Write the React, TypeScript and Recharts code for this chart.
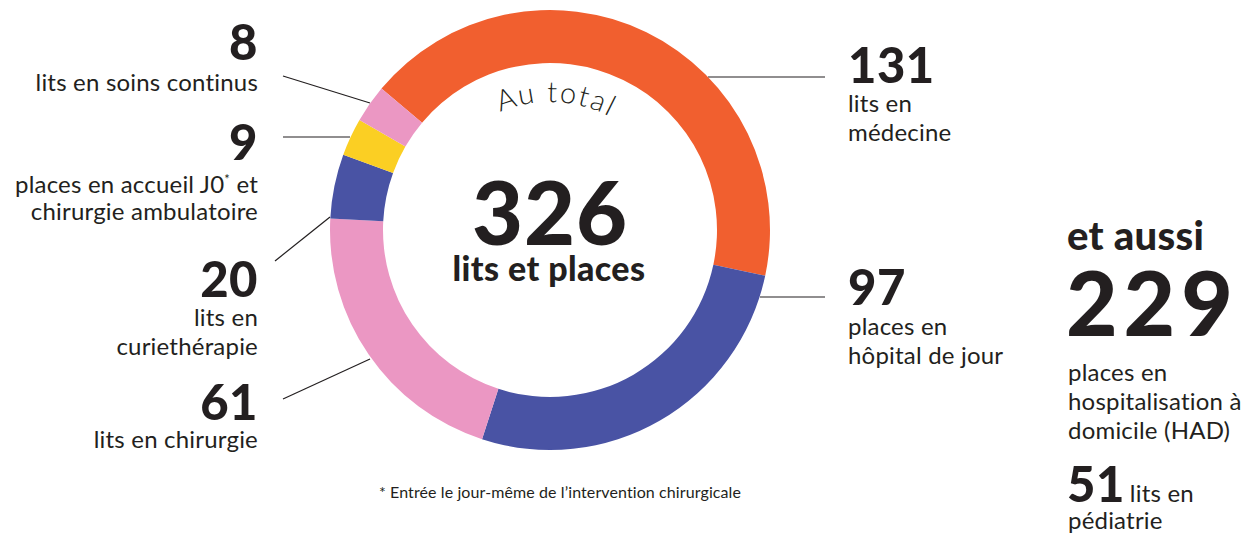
import React from 'react';
import { PieChart, Pie, Cell, Customized } from 'recharts';

// Categories (clockwise from the top-left boundary)
const categories = [
  'lits en médecine',
  'places en hôpital de jour',
  'lits en chirurgie',
  'lits en curiethérapie',
  'places en accueil J0 et chirurgie ambulatoire',
  'lits en soins continus',
];
// Labelled values
const values = [131, 97, 61, 20, 9, 8];
// Arc sizes as drawn in the infographic (degrees)
const arcShares = [152, 96, 75, 17, 10, 10];
const colors = ['#F15F2F', '#4953A4', '#EB97C3', '#4953A4', '#FBCF23', '#EB97C3'];

const total = 326;
const extraHAD = 229;
const extraPediatrie = 51;

const pieData = categories.map((c, i) => ({ name: c, value: arcShares[i], label: values[i] }));

const W = 1245;
const H = 535;
const CX = 550;
const CY = 230;

const INK = '#231F20';
const NUM_FONT = 'Lato, "DejaVu Sans", sans-serif';
const TXT_FONT = 'Lato, "Noto Sans", sans-serif';

const numStyle = { fontFamily: NUM_FONT, fontWeight: 900, fontSize: 49, fill: INK, letterSpacing: 0.5 } as const;
const txtStyle = { fontFamily: TXT_FONT, fontWeight: 400, fontSize: 24, fill: INK, letterSpacing: 0.2 } as const;

function Annotations() {
  const arcR = 128;
  return (
    <g>
      <defs>
        <path
          id="autotal-arc"
          d={`M ${CX - arcR} ${CY} A ${arcR} ${arcR} 0 0 1 ${CX + arcR} ${CY}`}
          fill="none"
        />
      </defs>
      <text style={{ fontFamily: TXT_FONT, fontWeight: 300, fontSize: 29, fill: INK, letterSpacing: 2 }}>
        <textPath href="#autotal-arc" startOffset="51.5%" textAnchor="middle">
          Au total
        </textPath>
      </text>
      <text x={CX} y={245} textAnchor="middle" style={{ ...numStyle, fontSize: 88, letterSpacing: 1 }}>
        {total}
      </text>
      <text x={549} y={281} textAnchor="middle" style={{ ...numStyle, fontSize: 34, letterSpacing: 0.4 }}>
        lits et places
      </text>

      {/* leader lines */}
      <g stroke={INK} strokeWidth={1.2}>
        <line x1={708} y1={77} x2={825} y2={77} />
        <line x1={760} y1={297} x2={825} y2={297} />
        <line x1={283} y1={76} x2={370} y2={103} />
        <line x1={283} y1={137} x2={350} y2={137} />
        <line x1={275} y1={261} x2={330} y2={217} />
        <line x1={283} y1={399} x2={370} y2={359} />
      </g>

      {/* left labels */}
      <g textAnchor="end">
        <text x={258} y={60} style={numStyle}>{values[5]}</text>
        <text x={258} y={91} style={txtStyle}>lits en soins continus</text>

        <text x={258} y={160} style={numStyle}>{values[4]}</text>
        <text x={258} y={193} style={txtStyle}>
          places en accueil J0<tspan dy={-9} fontSize={13}>*</tspan>
          <tspan dy={9}> et</tspan>
        </text>
        <text x={258} y={220} style={txtStyle}>chirurgie ambulatoire</text>

        <text x={258} y={297} style={numStyle}>{values[3]}</text>
        <text x={258} y={326} style={txtStyle}>lits en</text>
        <text x={258} y={355} style={txtStyle}>curiethérapie</text>

        <text x={258} y={420} style={numStyle}>{values[2]}</text>
        <text x={258} y={448} style={txtStyle}>lits en chirurgie</text>
      </g>

      {/* right labels */}
      <text x={848} y={83} style={numStyle}>{values[0]}</text>
      <text x={848} y={112} style={txtStyle}>lits en</text>
      <text x={848} y={141} style={txtStyle}>médecine</text>

      <text x={848} y={305} style={numStyle}>{values[1]}</text>
      <text x={848} y={335} style={txtStyle}>places en</text>
      <text x={848} y={364} style={txtStyle}>hôpital de jour</text>

      {/* et aussi */}
      <text x={1067} y={250} style={{ ...numStyle, fontSize: 40, letterSpacing: 0.3 }}>et aussi</text>
      <text x={1066} y={336} style={{ ...numStyle, fontSize: 89, letterSpacing: 6 }}>{extraHAD}</text>
      <text x={1068} y={381} style={txtStyle}>places en</text>
      <text x={1068} y={410} style={txtStyle}>hospitalisation à</text>
      <text x={1068} y={439} style={txtStyle}>domicile (HAD)</text>
      <text x={1067} y={502} style={numStyle}>
        {extraPediatrie}
        <tspan style={txtStyle} dx={5}>lits en</tspan>
      </text>
      <text x={1068} y={529} style={txtStyle}>pédiatrie</text>

      {/* footnote */}
      <text x={560} y={498} textAnchor="middle" style={{ fontFamily: TXT_FONT, fontSize: 16, fill: INK, letterSpacing: 0.1 }}>
        * Entrée le jour-même de l’intervention chirurgicale
      </text>
    </g>
  );
}

export default function App() {
  return (
    <div style={{ position: 'absolute', left: 0, top: 0, width: W, height: H, background: '#fff' }}>
      <PieChart width={W} height={H} margin={{ top: 0, right: 0, bottom: 0, left: 0 }}>
        <Pie
          data={pieData}
          dataKey="value"
          nameKey="name"
          cx={CX}
          cy={CY}
          innerRadius={167}
          outerRadius={220}
          startAngle={140}
          endAngle={-220}
          stroke="none"
          isAnimationActive={false}
        >
          {pieData.map((d, i) => (
            <Cell key={d.name} fill={colors[i]} />
          ))}
        </Pie>
        <Customized component={Annotations} />
      </PieChart>
    </div>
  );
}
